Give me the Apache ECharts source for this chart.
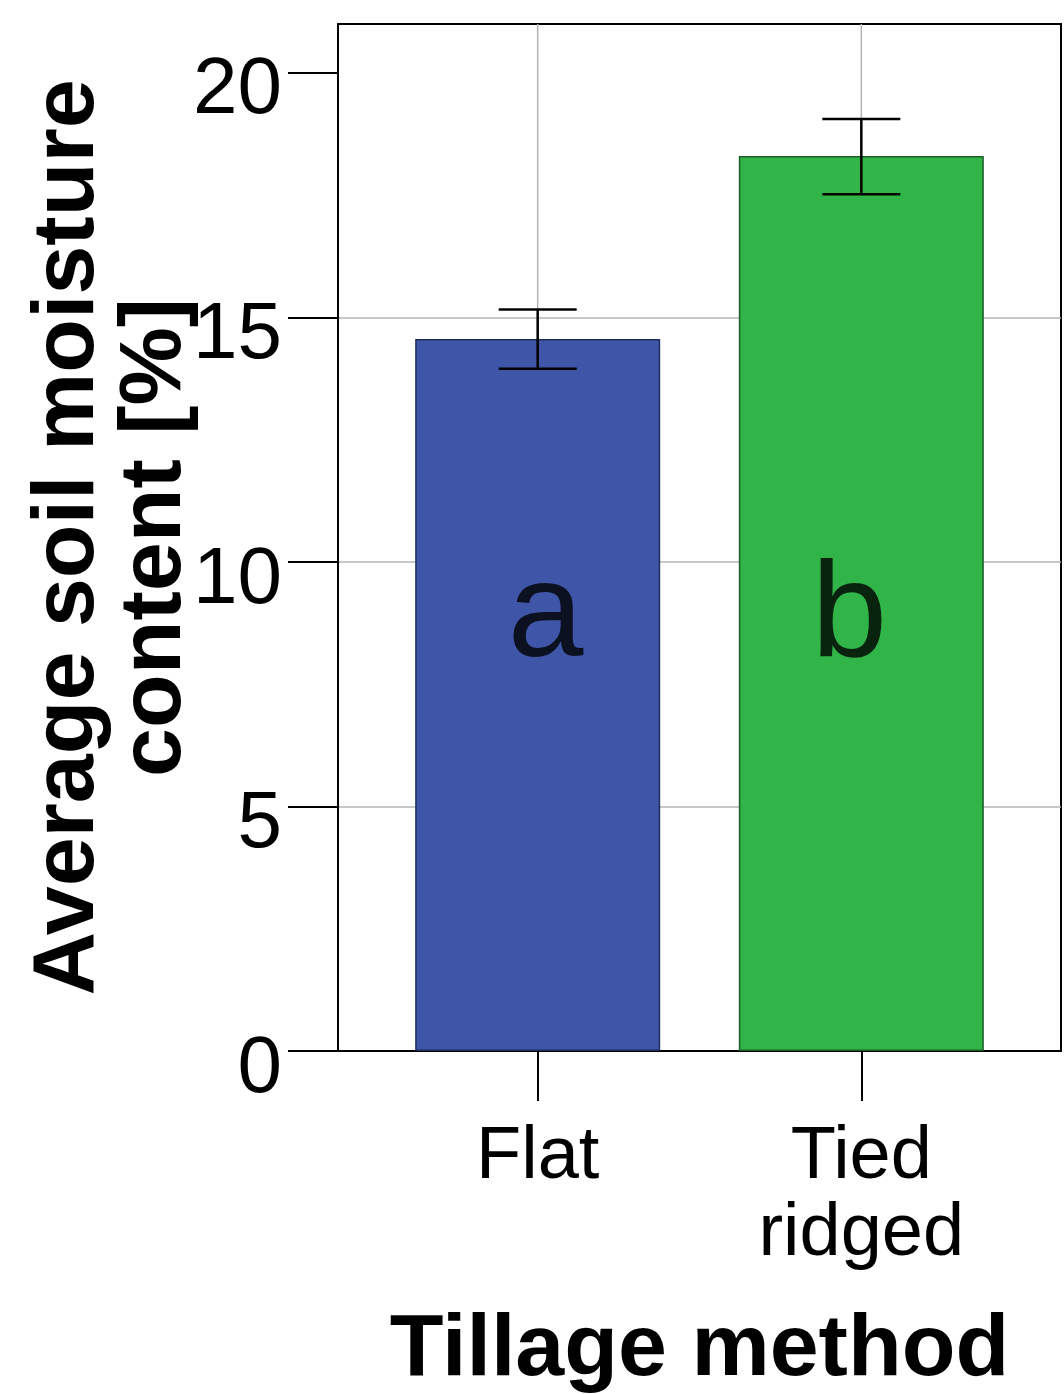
<!DOCTYPE html>
<html>
<head>
<meta charset="utf-8">
<script src="https://cdn.jsdelivr.net/npm/echarts@6/dist/echarts.min.js"></script>
<style>html,body{margin:0;padding:0;background:#fff;}#c{width:1064px;height:1394px;}</style>
</head>
<body>
<div id="c"></div>
<script>
var categories = ['Flat', 'Tied\nridged'];
var categoryPos = [1, 2];
var meanValues = [14.56, 18.30];
var errLow = [13.95, 17.52];
var errHigh = [15.16, 19.06];
var groupLetters = ['a', 'b'];
var letterY = [8.85, 8.85];
var yTicks = [0, 5, 10, 15, 20];

var FONT = '"Liberation Sans", Arial, sans-serif';
var chart = echarts.init(document.getElementById('c'), null, {renderer: 'canvas'});

var barData = categoryPos.map(function (x, i) { return [x, meanValues[i]]; });
var errData = categoryPos.map(function (x, i) { return [x, errLow[i], errHigh[i]]; });
var letterOffsets = [[8, 0], [-12, 0]];
var letterData = categoryPos.map(function (x, i) {
  return {value: [x, letterY[i], groupLetters[i]], label: {offset: letterOffsets[i]}};
});
var barColors = ['#3F56A8', '#31B548'];
var barBorders = ['#1E2C5E', '#1B5E27'];

chart.setOption({
  animation: false,
  backgroundColor: '#fff',
  grid: {left: 338, right: 3, top: 24, bottom: 343, containLabel: false, outerBoundsMode: 'none',
    show: true, borderColor: '#000', borderWidth: 2, backgroundColor: 'transparent'},
  xAxis: {
    type: 'value', min: 0.383, max: 2.617,
    name: 'Tillage method', nameLocation: 'middle', nameGap: 256, nameMoveOverlap: false,
    nameTextStyle: {fontFamily: FONT, fontSize: 88, fontWeight: 'bold', color: '#000'},
    axisLine: {show: true, lineStyle: {color: '#000', width: 2}},
    axisTick: {show: true, customValues: categoryPos, length: 50, lineStyle: {color: '#000', width: 2}},
    axisLabel: {
      customValues: categoryPos, margin: 68,
      fontFamily: FONT, fontSize: 74, lineHeight: 77, color: '#000', align: 'center',
      formatter: function (v) { var i = categoryPos.indexOf(v); return i >= 0 ? categories[i] : ''; }
    },
    splitLine: {show: false}
  },
  yAxis: {
    type: 'value', min: 0, max: 21, interval: 5,
    name: 'Average soil moisture\ncontent [%]', nameLocation: 'middle', nameGap: 139, nameRotate: 90,
    nameMoveOverlap: false,
    nameTextStyle: {fontFamily: FONT, fontSize: 88, fontWeight: 'bold', color: '#000', lineHeight: 87},
    axisLine: {show: true, lineStyle: {color: '#000', width: 2}},
    axisTick: {show: true, customValues: yTicks, length: 50, lineStyle: {color: '#000', width: 2}},
    axisLabel: {
      customValues: yTicks, margin: 56, color: '#000',
      formatter: function (v) { return '{v|' + v + '}'; },
      rich: {v: {fontFamily: FONT, fontSize: 80, color: '#000', padding: [37, 0, 0, 0]}}
    },
    splitLine: {show: true, showMinLine: false, showMaxLine: false, lineStyle: {color: '#b4b4b4', width: 1.5}}
  },
  series: [
    {
      type: 'custom', z: 1, silent: true,
      data: categoryPos.map(function (x) { return [x]; }),
      renderItem: function (params, api) {
        var p0 = api.coord([api.value(0), 0]);
        var cs = params.coordSys;
        return {type: 'line', shape: {x1: p0[0], y1: cs.y, x2: p0[0], y2: cs.y + cs.height},
          style: {stroke: '#b4b4b4', lineWidth: 1.5}};
      }
    },
    {
      type: 'bar', z: 2, barWidth: 245,
      data: barData.map(function (d, i) {
        return {value: d, itemStyle: {color: barColors[i], borderColor: barBorders[i], borderWidth: 1.5}};
      })
    },
    {
      type: 'custom', z: 3, silent: true,
      data: errData,
      renderItem: function (params, api) {
        var lo = api.coord([api.value(0), api.value(1)]);
        var hi = api.coord([api.value(0), api.value(2)]);
        var hw = 39;
        var st = {stroke: '#000', lineWidth: 2.5};
        return {type: 'group', children: [
          {type: 'line', shape: {x1: lo[0], y1: lo[1], x2: hi[0], y2: hi[1]}, style: st},
          {type: 'line', shape: {x1: lo[0] - hw, y1: lo[1], x2: lo[0] + hw, y2: lo[1]}, style: st},
          {type: 'line', shape: {x1: hi[0] - hw, y1: hi[1], x2: hi[0] + hw, y2: hi[1]}, style: st}
        ]};
      }
    },
    {
      type: 'scatter', z: 4, symbolSize: 0, silent: true,
      data: letterData,
      label: {show: true, position: 'inside', formatter: function (p) { return p.data.value[2]; },
        fontFamily: FONT, fontSize: 136, color: '#000'}
    }
  ]
});
</script>
</body>
</html>
